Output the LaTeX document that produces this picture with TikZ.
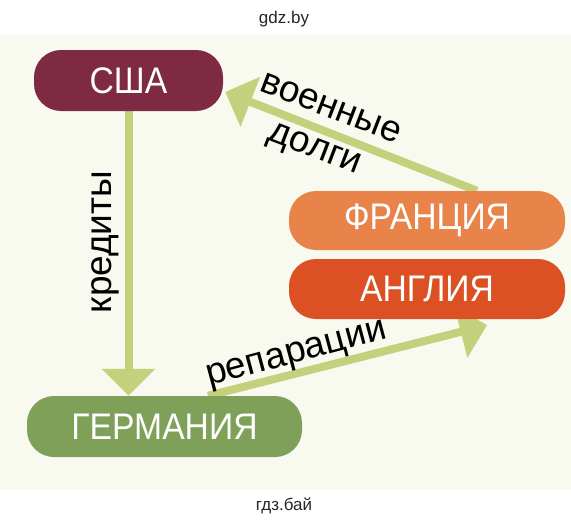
\documentclass[tikz,border=0pt]{standalone}
\usepackage{fontspec}
\setmainfont{Liberation Sans}
\newfontfamily\boxfont[FakeStretch=0.91]{Liberation Sans}
\usetikzlibrary{arrows.meta,calc,backgrounds}
\definecolor{cream}{HTML}{F8F9EF}
\definecolor{usac}{HTML}{7E2A42}
\definecolor{frc}{HTML}{E8834A}
\definecolor{engc}{HTML}{DC5124}
\definecolor{gerc}{HTML}{7FA058}
\definecolor{arrc}{HTML}{C3D17C}
\begin{document}
\begin{tikzpicture}[x=1pt,y=-1pt,
  country/.style={rounded corners=27pt, minimum height=61pt, inner sep=0pt,
    text=white, font=\boxfont\fontsize{37}{37}\selectfont},
  flow/.style={draw=arrc, line width=8pt, -{Triangle[width=52pt,length=27pt]}},
  lbl/.style={inner sep=0pt, font=\fontsize{37}{40}\selectfont, text=black},
  wmark/.style={inner sep=0pt, font=\fontsize{17}{17}\selectfont, text=black!85}]
\useasboundingbox (0,0) rectangle (571,525);
\node[country, fill=usac, minimum width=189pt] (usa) at (128.5,80.5) {США};
\node[country, fill=frc, minimum width=276pt, minimum height=59pt] (fr) at (427,220.5) {ФРАНЦИЯ};
\node[country, fill=engc, minimum width=276pt, minimum height=60pt] (eng) at (427,289) {АНГЛИЯ};
\node[country, fill=gerc, minimum width=275pt] (ger) at (164.5,426.5) {ГЕРМАНИЯ};
\node[wmark] (hdr) at (284,19.5) {gdz.by};
\node[wmark] (ftr) at (284,505.5) {гдз.бай};
\node[lbl, rotate=-21] (mil) at (331,108) {военные};
\node[lbl, rotate=-21] (debt) at (314,151) {долги};
\node[lbl, rotate=15] (rep) at (297,356) {репарации};
\node[lbl, rotate=90] (cred) at (105,242) {кредиты};
\begin{scope}[on background layer]
\fill[white] (0,0) rectangle (571,525);
\fill[cream] (0,35) rectangle (571,490);
\draw[flow] (usa.south) -- (usa.south |- ger.north);
\draw[flow] ($(fr.north)+(50,0)$) -- ($(usa.east)+(2,11.5)$);
\draw[flow] ($(ger.north)+(43.5,0)$) -- ($(eng.south)+(60,6)$);
\end{scope}
\end{tikzpicture}
\end{document}
